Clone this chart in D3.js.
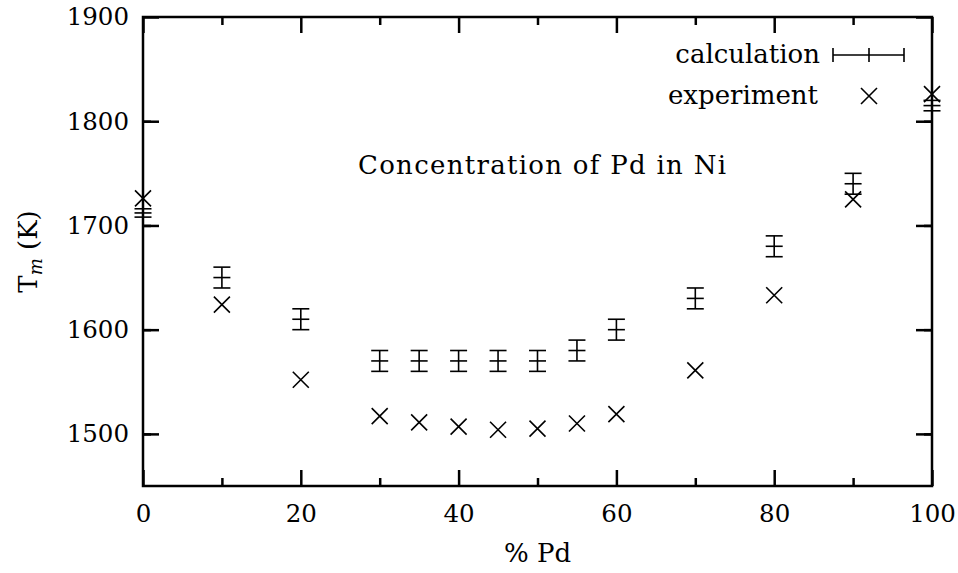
<!DOCTYPE html>
<html>
<head>
<meta charset="utf-8">
<script src="https://cdn.jsdelivr.net/npm/d3@7"></script>
<style>
  body { margin: 0; background: #fff; }
  text { font-family: "DejaVu Serif", "Liberation Serif", serif; fill: #000; }
</style>
</head>
<body>
<div id="chart"></div>
<script>
// data
const pdPercent = [0, 10, 20, 30, 35, 40, 45, 50, 55, 60, 70, 80, 90, 100];
const calcTm    = [1712, 1650, 1610, 1570, 1570, 1570, 1570, 1570, 1580, 1600, 1630, 1680, 1740, 1815];
const calcErr   = [4, 10, 10, 10, 10, 10, 10, 10, 10, 10, 10, 10, 10, 5];
const expTm     = [1726, 1624, 1552, 1517, 1511, 1507, 1504, 1505, 1510, 1519, 1561, 1633, 1725, 1826];
const xTicks = [0, 20, 40, 60, 80, 100];
const yTicks = [1500, 1600, 1700, 1800, 1900];

const width = 958;
const height = 573;
const margin = { top: 17, right: 26, bottom: 87, left: 143 };
const fs = 26;      // labels, legend, annotation
const tickFs = 24.5;

const svg = d3.select("#chart")
  .append("svg")
  .attr("width", width)
  .attr("height", height);

const x = d3.scaleLinear()
  .domain([0, 100])
  .range([margin.left, width - margin.right]);

const y = d3.scaleLinear()
  .domain([1450, 1900])
  .range([height - margin.bottom, margin.top]);

// minor ticks
const xMinor = d3.range(10, 100, 20);
const yMinor = d3.range(1450, 1900, 100).map(d => d + 50).filter(d => d < 1900);

function styleAxis(g) {
  g.select(".domain").remove();
  g.selectAll(".tick line").attr("stroke", "#000").attr("stroke-width", 2.5);
  g.selectAll(".tick text").attr("font-size", tickFs).attr("fill", "#000");
}

// bottom
svg.append("g")
  .attr("transform", `translate(0,${y(1450)})`)
  .call(d3.axisBottom(x).tickValues(xTicks).tickSize(-16).tickPadding(19).tickFormat(d3.format("d")))
  .call(styleAxis);
svg.append("g")
  .attr("transform", `translate(0,${y(1450)})`)
  .call(d3.axisBottom(x).tickValues(xMinor).tickSize(-8).tickFormat(""))
  .call(styleAxis);
// top
svg.append("g")
  .attr("transform", `translate(0,${y(1900)})`)
  .call(d3.axisTop(x).tickValues(xTicks).tickSize(-16).tickFormat(""))
  .call(styleAxis);
svg.append("g")
  .attr("transform", `translate(0,${y(1900)})`)
  .call(d3.axisTop(x).tickValues(xMinor).tickSize(-8).tickFormat(""))
  .call(styleAxis);
// left
svg.append("g")
  .attr("transform", `translate(${x(0)},0)`)
  .call(d3.axisLeft(y).tickValues(yTicks).tickSize(-16).tickPadding(14).tickFormat(d3.format("d")))
  .call(styleAxis);
svg.append("g")
  .attr("transform", `translate(${x(0)},0)`)
  .call(d3.axisLeft(y).tickValues(yMinor).tickSize(-8).tickFormat(""))
  .call(styleAxis);
// right
svg.append("g")
  .attr("transform", `translate(${x(100)},0)`)
  .call(d3.axisRight(y).tickValues(yTicks).tickSize(-16).tickFormat(""))
  .call(styleAxis);
svg.append("g")
  .attr("transform", `translate(${x(100)},0)`)
  .call(d3.axisRight(y).tickValues(yMinor).tickSize(-8).tickFormat(""))
  .call(styleAxis);

// frame
svg.append("rect")
  .attr("x", x(0))
  .attr("y", y(1900))
  .attr("width", x(100) - x(0))
  .attr("height", y(1450) - y(1900))
  .attr("fill", "none")
  .attr("stroke", "#000")
  .attr("stroke-width", 2.5);

// axis labels
svg.append("text")
  .attr("x", (x(0) + x(100)) / 2)
  .attr("y", 562)
  .attr("text-anchor", "middle")
  .attr("font-size", fs)
  .text("% Pd");

const yLabel = svg.append("text")
  .attr("transform", `translate(37,${(y(1450) + y(1900)) / 2}) rotate(-90)`)
  .attr("text-anchor", "middle")
  .attr("font-size", fs);
yLabel.append("tspan").text("T");
yLabel.append("tspan").attr("font-size", 18).attr("font-style", "italic").attr("dy", 5).text("m");
yLabel.append("tspan").attr("dy", -5).text(" (K)");

// annotation
svg.append("text")
  .attr("x", 542)
  .attr("y", 174)
  .attr("text-anchor", "middle")
  .attr("font-size", fs)
  .attr("textLength", 368)
  .text("Concentration of Pd in Ni");

const calc = pdPercent.map((p, i) => ({ p, v: calcTm[i], e: calcErr[i] }));
const expt = pdPercent.map((p, i) => ({ p, v: expTm[i] }));

const capW = 8.5;
const markS = 8;

const plot = svg.append("g")
  .attr("stroke", "#000")
  .attr("stroke-width", 1.6)
  .attr("fill", "none");

// calculation error bars
const eb = plot.selectAll(".calc")
  .data(calc)
  .join("g")
  .attr("class", "calc");
eb.append("line")
  .attr("x1", d => x(d.p)).attr("x2", d => x(d.p))
  .attr("y1", d => y(d.v - d.e)).attr("y2", d => y(d.v + d.e));
eb.append("line")
  .attr("x1", d => x(d.p) - capW).attr("x2", d => x(d.p) + capW)
  .attr("y1", d => y(d.v - d.e)).attr("y2", d => y(d.v - d.e));
eb.append("line")
  .attr("x1", d => x(d.p) - capW).attr("x2", d => x(d.p) + capW)
  .attr("y1", d => y(d.v + d.e)).attr("y2", d => y(d.v + d.e));
eb.append("line")
  .attr("x1", d => x(d.p) - capW).attr("x2", d => x(d.p) + capW)
  .attr("y1", d => y(d.v)).attr("y2", d => y(d.v));

// experiment crosses
plot.selectAll(".exp")
  .data(expt)
  .join("path")
  .attr("class", "exp")
  .attr("d", d => {
    const cx = x(d.p), cy = y(d.v);
    return `M${cx - markS},${cy - markS}L${cx + markS},${cy + markS}M${cx - markS},${cy + markS}L${cx + markS},${cy - markS}`;
  });

// legend
const legend = svg.append("g");
legend.append("text")
  .attr("x", 820).attr("y", 55)
  .attr("dy", "0.32em")
  .attr("text-anchor", "end")
  .attr("font-size", fs)
  .text("calculation");
legend.append("text")
  .attr("x", 818).attr("y", 96)
  .attr("dy", "0.32em")
  .attr("text-anchor", "end")
  .attr("font-size", fs)
  .text("experiment");
const lg = legend.append("g").attr("stroke", "#000").attr("stroke-width", 1.6).attr("fill", "none");
lg.append("path").attr("d", "M833,55H904M833,48V62M904,48V62M869,48V62");
lg.append("path").attr("d", `M${869 - markS},${96 - markS}L${869 + markS},${96 + markS}M${869 - markS},${96 + markS}L${869 + markS},${96 - markS}`);
</script>
</body>
</html>
